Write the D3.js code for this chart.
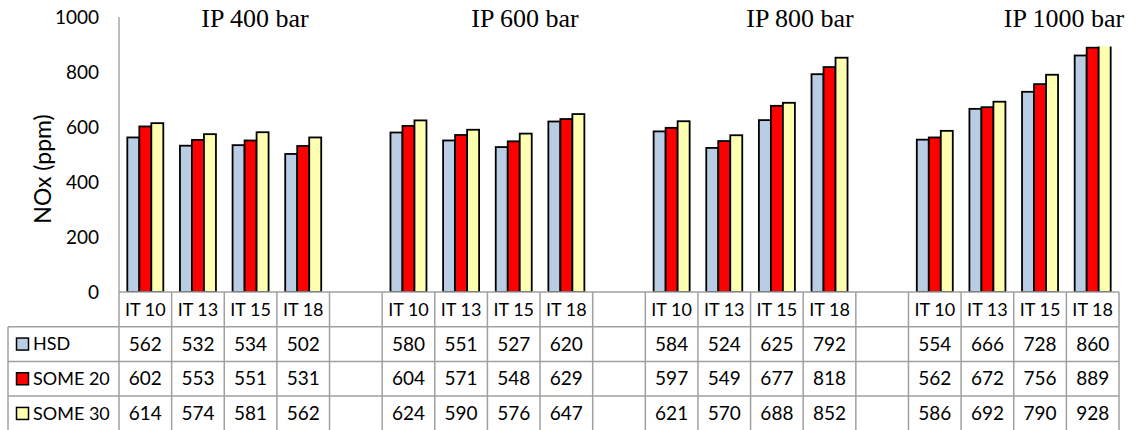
<!DOCTYPE html>
<html>
<head>
<meta charset="utf-8">
<script src="https://cdn.jsdelivr.net/npm/d3@7"></script>
<style>
  body { margin: 0; background: #fff; }
  text { font-family: Lato, "Open Sans", sans-serif; fill: #000; }
</style>
</head>
<body>
<div id="chart"></div>
<script>
// data
var groups = ["IP 400 bar", "IP 600 bar", "IP 800 bar", "IP 1000 bar"];
var timings = ["IT 10", "IT 13", "IT 15", "IT 18"];
var series = ["HSD", "SOME 20", "SOME 30"];
var hsd    = [562, 532, 534, 502, 580, 551, 527, 620, 584, 524, 625, 792, 554, 666, 728, 860];
var some20 = [602, 553, 551, 531, 604, 571, 548, 629, 597, 549, 677, 818, 562, 672, 756, 889];
var some30 = [614, 574, 581, 562, 624, 590, 576, 647, 621, 570, 688, 852, 586, 692, 790, 928];
var yTicks = [0, 200, 400, 600, 800, 1000];

var values = [hsd, some20, some30];
var colors = ["#B9CDE5", "#FF0000", "#FFFFB0"];
var titleX = [255, 525, 800, 1064];

var W = 1137, H = 430;
var plotL = 119, plotR = 1119, plotT = 17, plotB = 292;
var rowH = 34.7;

var svg = d3.select("#chart").append("svg")
  .attr("width", W).attr("height", H);

// one slot per timing, plus an empty slot between pressure groups
var slots = d3.range(groups.length * 5 - 1);
var x = d3.scaleBand().domain(slots).range([plotL, plotR]);
var inner = d3.scaleBand().domain(series)
  .range([x.bandwidth() / 2 - 18, x.bandwidth() / 2 + 18]);
var y = d3.scaleLinear().domain([0, 1000]).range([plotB, plotT]);

// flatten into table rows
var cells = [];
groups.forEach(function(g, gi) {
  timings.forEach(function(t, ti) {
    var k = gi * 4 + ti;
    series.forEach(function(s, si) {
      cells.push({slot: gi * 5 + ti, series: s, si: si, value: values[si][k]});
    });
  });
});

// y axis
var yAxis = svg.append("g")
  .attr("transform", "translate(" + (plotL - 20) + ",0)")
  .call(d3.axisLeft(y).tickValues(yTicks).tickFormat(d3.format("d")).tickSize(0).tickPadding(0));
yAxis.select(".domain").remove();
yAxis.selectAll("text").style("font-size", "19px").style("font-family", "Lato, sans-serif");

svg.append("line")
  .attr("x1", plotL).attr("x2", plotL).attr("y1", plotT).attr("y2", plotB)
  .attr("stroke", "#A6A6A6").attr("stroke-width", 1.5);

svg.append("text")
  .attr("transform", "translate(51,169) rotate(-90)")
  .attr("text-anchor", "middle")
  .style("font-size", "23px")
  .text("NOx (ppm)");

// group titles
svg.selectAll(".title")
  .data(groups)
  .enter().append("text")
  .attr("class", "title")
  .attr("x", function(d, i) { return titleX[i]; })
  .attr("y", 27)
  .attr("text-anchor", "middle")
  .style("font-family", "'Liberation Serif', 'Times New Roman', serif")
  .style("font-size", "26px")
  .text(function(d) { return d; });

// bars (clipped at the top like the original plot area)
svg.append("clipPath").attr("id", "plotclip")
  .append("rect").attr("x", plotL).attr("y", 46.5)
  .attr("width", plotR - plotL).attr("height", plotB - 46.5);

svg.append("g").attr("clip-path", "url(#plotclip)")
  .selectAll("rect")
  .data(cells)
  .enter().append("rect")
  .attr("x", function(d) { return x(d.slot) + inner(d.series); })
  .attr("y", function(d) { return y(d.value); })
  .attr("width", inner.bandwidth())
  .attr("height", function(d) { return y(0) - y(d.value); })
  .attr("fill", function(d) { return colors[d.si]; })
  .attr("stroke", "#000")
  .attr("stroke-width", 1.8);

// data table
var grid = svg.append("g").attr("stroke", "#A0A0A0").attr("stroke-width", 1.5);
var bounds = slots.map(function(s) { return x(s); }).concat([plotR]);
grid.selectAll(".v")
  .data(bounds)
  .enter().append("line")
  .attr("x1", function(d) { return d; }).attr("x2", function(d) { return d; })
  .attr("y1", plotB).attr("y2", H);
grid.append("line").attr("x1", 8).attr("x2", 8).attr("y1", plotB + rowH).attr("y2", H);
grid.append("line").attr("x1", plotL).attr("x2", plotR).attr("y1", plotB).attr("y2", plotB);
grid.selectAll(".h")
  .data(d3.range(1, 5))
  .enter().append("line")
  .attr("x1", 8).attr("x2", plotR)
  .attr("y1", function(d) { return plotB + d * rowH; })
  .attr("y2", function(d) { return plotB + d * rowH; });

// header row
var headers = [];
groups.forEach(function(g, gi) {
  timings.forEach(function(t, ti) { headers.push({slot: gi * 5 + ti, label: t}); });
});
svg.selectAll(".hdr")
  .data(headers)
  .enter().append("text")
  .attr("x", function(d) { return x(d.slot) + x.bandwidth() / 2; })
  .attr("y", plotB + rowH / 2)
  .attr("dy", "0.35em")
  .attr("text-anchor", "middle")
  .style("font-size", "18px")
  .text(function(d) { return d.label; });

// value cells
svg.selectAll(".val")
  .data(cells)
  .enter().append("text")
  .attr("x", function(d) { return x(d.slot) + x.bandwidth() / 2; })
  .attr("y", function(d) { return plotB + (d.si + 1.5) * rowH; })
  .attr("dy", "0.35em")
  .attr("text-anchor", "middle")
  .style("font-size", "19px")
  .text(function(d) { return d.value; });

// legend keys in first column
var leg = svg.selectAll(".leg")
  .data(series)
  .enter().append("g")
  .attr("transform", function(d, i) { return "translate(0," + (plotB + (i + 1.5) * rowH) + ")"; });
leg.append("rect")
  .attr("x", 16.5).attr("y", -6).attr("width", 12).attr("height", 12)
  .attr("fill", function(d, i) { return colors[i]; })
  .attr("stroke", "#000").attr("stroke-width", 1.5);
leg.append("text")
  .attr("x", 33).attr("dy", "0.35em")
  .style("font-size", "18px")
  .text(function(d) { return d; });
</script>
</body>
</html>
